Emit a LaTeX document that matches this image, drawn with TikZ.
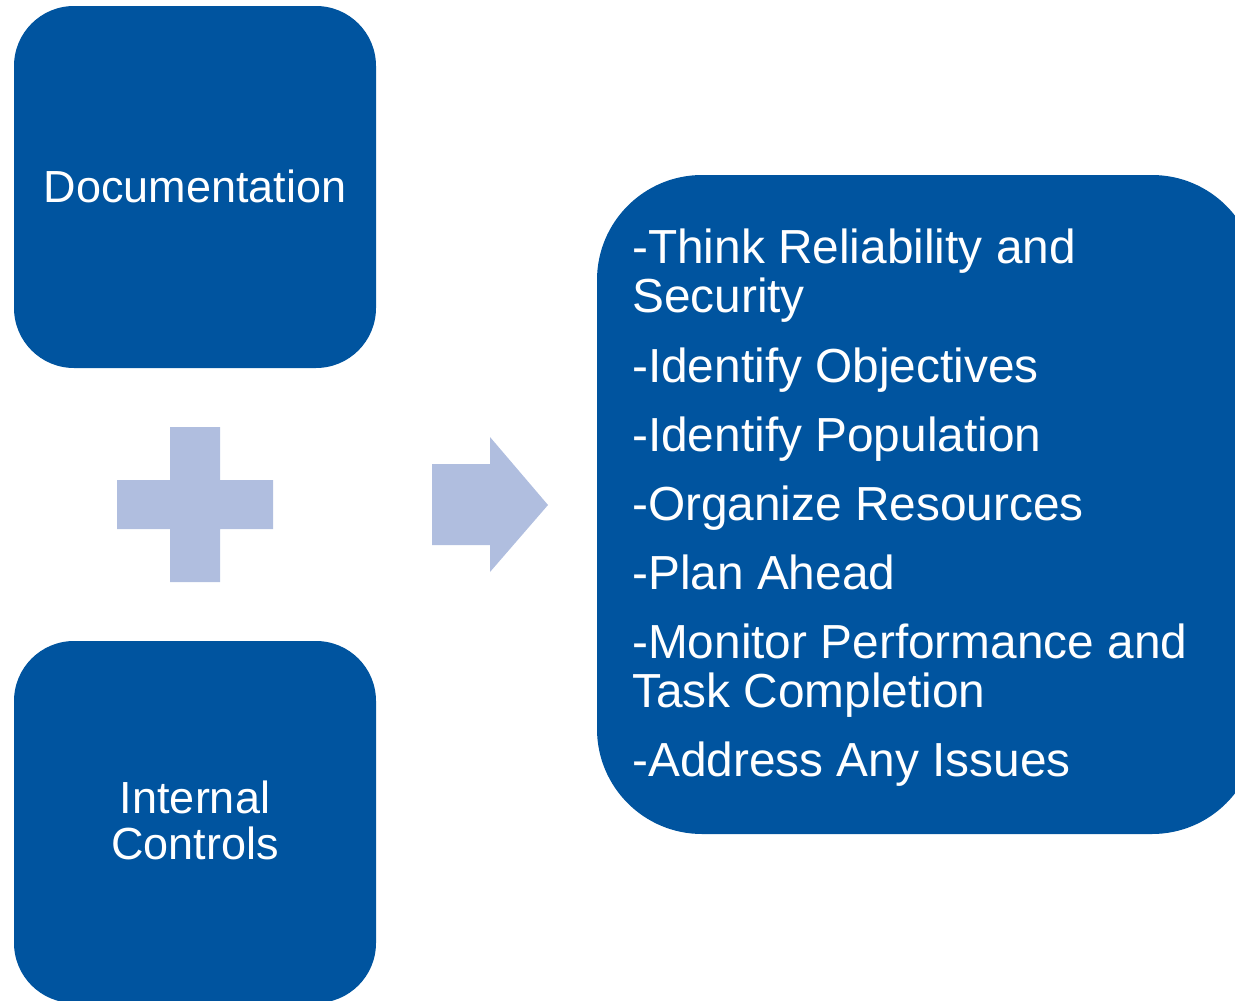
\documentclass[tikz,border=0pt]{standalone}
\usepackage{fontspec}
\setmainfont{Liberation Sans}
\definecolor{boxblue}{RGB}{0,84,159}
\definecolor{lightblue}{RGB}{176,190,223}
\begin{document}
\begin{tikzpicture}[x=1pt,y=-1pt,
  boxtxt/.style={text=white, inner sep=0pt, anchor=base, font=\fontsize{45}{46}\selectfont},
  listtxt/.style={text=white, inner sep=0pt, anchor=base west, font=\fontsize{47.8}{49}\selectfont}]
\useasboundingbox (0,0) rectangle (1235,1001);
\clip (0,0) rectangle (1235,1001);
% boxes
\fill[boxblue, rounded corners=60pt] (14,6) rectangle (376,368);
\fill[boxblue, rounded corners=60pt] (14,641) rectangle (376,1003);
\fill[boxblue, rounded corners=105pt] (597,175) rectangle (1257,834);
% plus
\fill[lightblue] (117,480) -- (170,480) -- (170,427) -- (220,427) -- (220,480) -- (273,480)
  -- (273,529) -- (220,529) -- (220,582) -- (170,582) -- (170,529) -- (117,529) -- cycle;
% arrow
\fill[lightblue] (432,464) -- (490,464) -- (490,437) -- (548,505) -- (490,572) -- (490,545) -- (432,545) -- cycle;
% texts
\node[boxtxt] (doc) at (195,202) {Documentation};
\node[boxtxt] (ic1) at (195,813) {Internal};
\node[boxtxt] (ic2) at (195,859) {Controls};
\node[listtxt] (l1) at (632,263) {-Think Reliability and};
\node[listtxt] (l2) at (632,312) {Security};
\node[listtxt] (l3) at (632,382) {-Identify Objectives};
\node[listtxt] (l4) at (632,451) {-Identify Population};
\node[listtxt] (l5) at (632,520) {-Organize Resources};
\node[listtxt] (l6) at (632,589) {-Plan Ahead};
\node[listtxt] (l7) at (632,658) {-Monitor Performance and};
\node[listtxt] (l8) at (632,707) {Task Completion};
\node[listtxt] (l9) at (632,776) {-Address Any Issues};
\end{tikzpicture}
\end{document}
